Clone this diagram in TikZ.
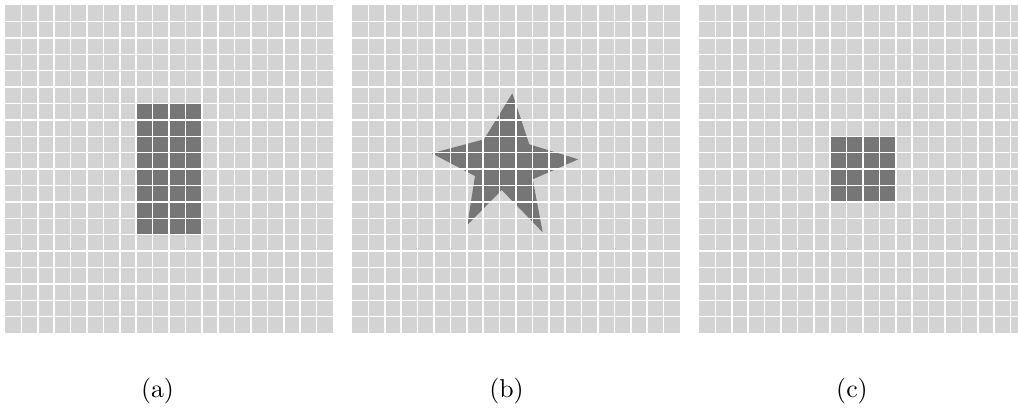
\documentclass[tikz,border=0pt]{standalone}
\definecolor{cellgray}{HTML}{D3D3D3}
\definecolor{blockgray}{HTML}{767676}
\begin{document}
\begin{tikzpicture}[x=0.3875pt,y=-0.3875pt,
  panel/.style={fill=cellgray},
  block/.style={fill=blockgray},
  gridline/.style={white,line width=0.55pt}]
\useasboundingbox (0,0) rectangle (1018,411);
\clip (0,0) rectangle (1018,411);
% the three panels
\foreach \px in {5,352,699}{
  \fill[panel] (\px,5) rectangle ++(328,328);
}
% (a) rectangle
\fill[block] (136.2,103.4) rectangle (201.8,234.6);
% (b) star
\fill[block] (512.3,93.3) -- (529.3,144.3) -- (578.3,159.3) -- (532.7,179.3)
  -- (542.7,232.3) -- (501.7,190) -- (467.3,225) -- (475,176)
  -- (431.7,153.3) -- (484,139.3) -- cycle;
% (c) square
\fill[block] (830.2,136.2) rectangle (895.8,201.8);
% grid
\foreach \px in {5,352,699}{
  \foreach \k in {1,...,19}{
    \draw[gridline] (\px+\k*16.4,5) -- ++(0,328);
    \draw[gridline] (\px,5+\k*16.4) -- ++(328,0);
  }
}
\node (la) at (157.5,391) {(a)};
\node (lb) at (506.5,391) {(b)};
\node (lc) at (852,391) {(c)};
\end{tikzpicture}
\end{document}
